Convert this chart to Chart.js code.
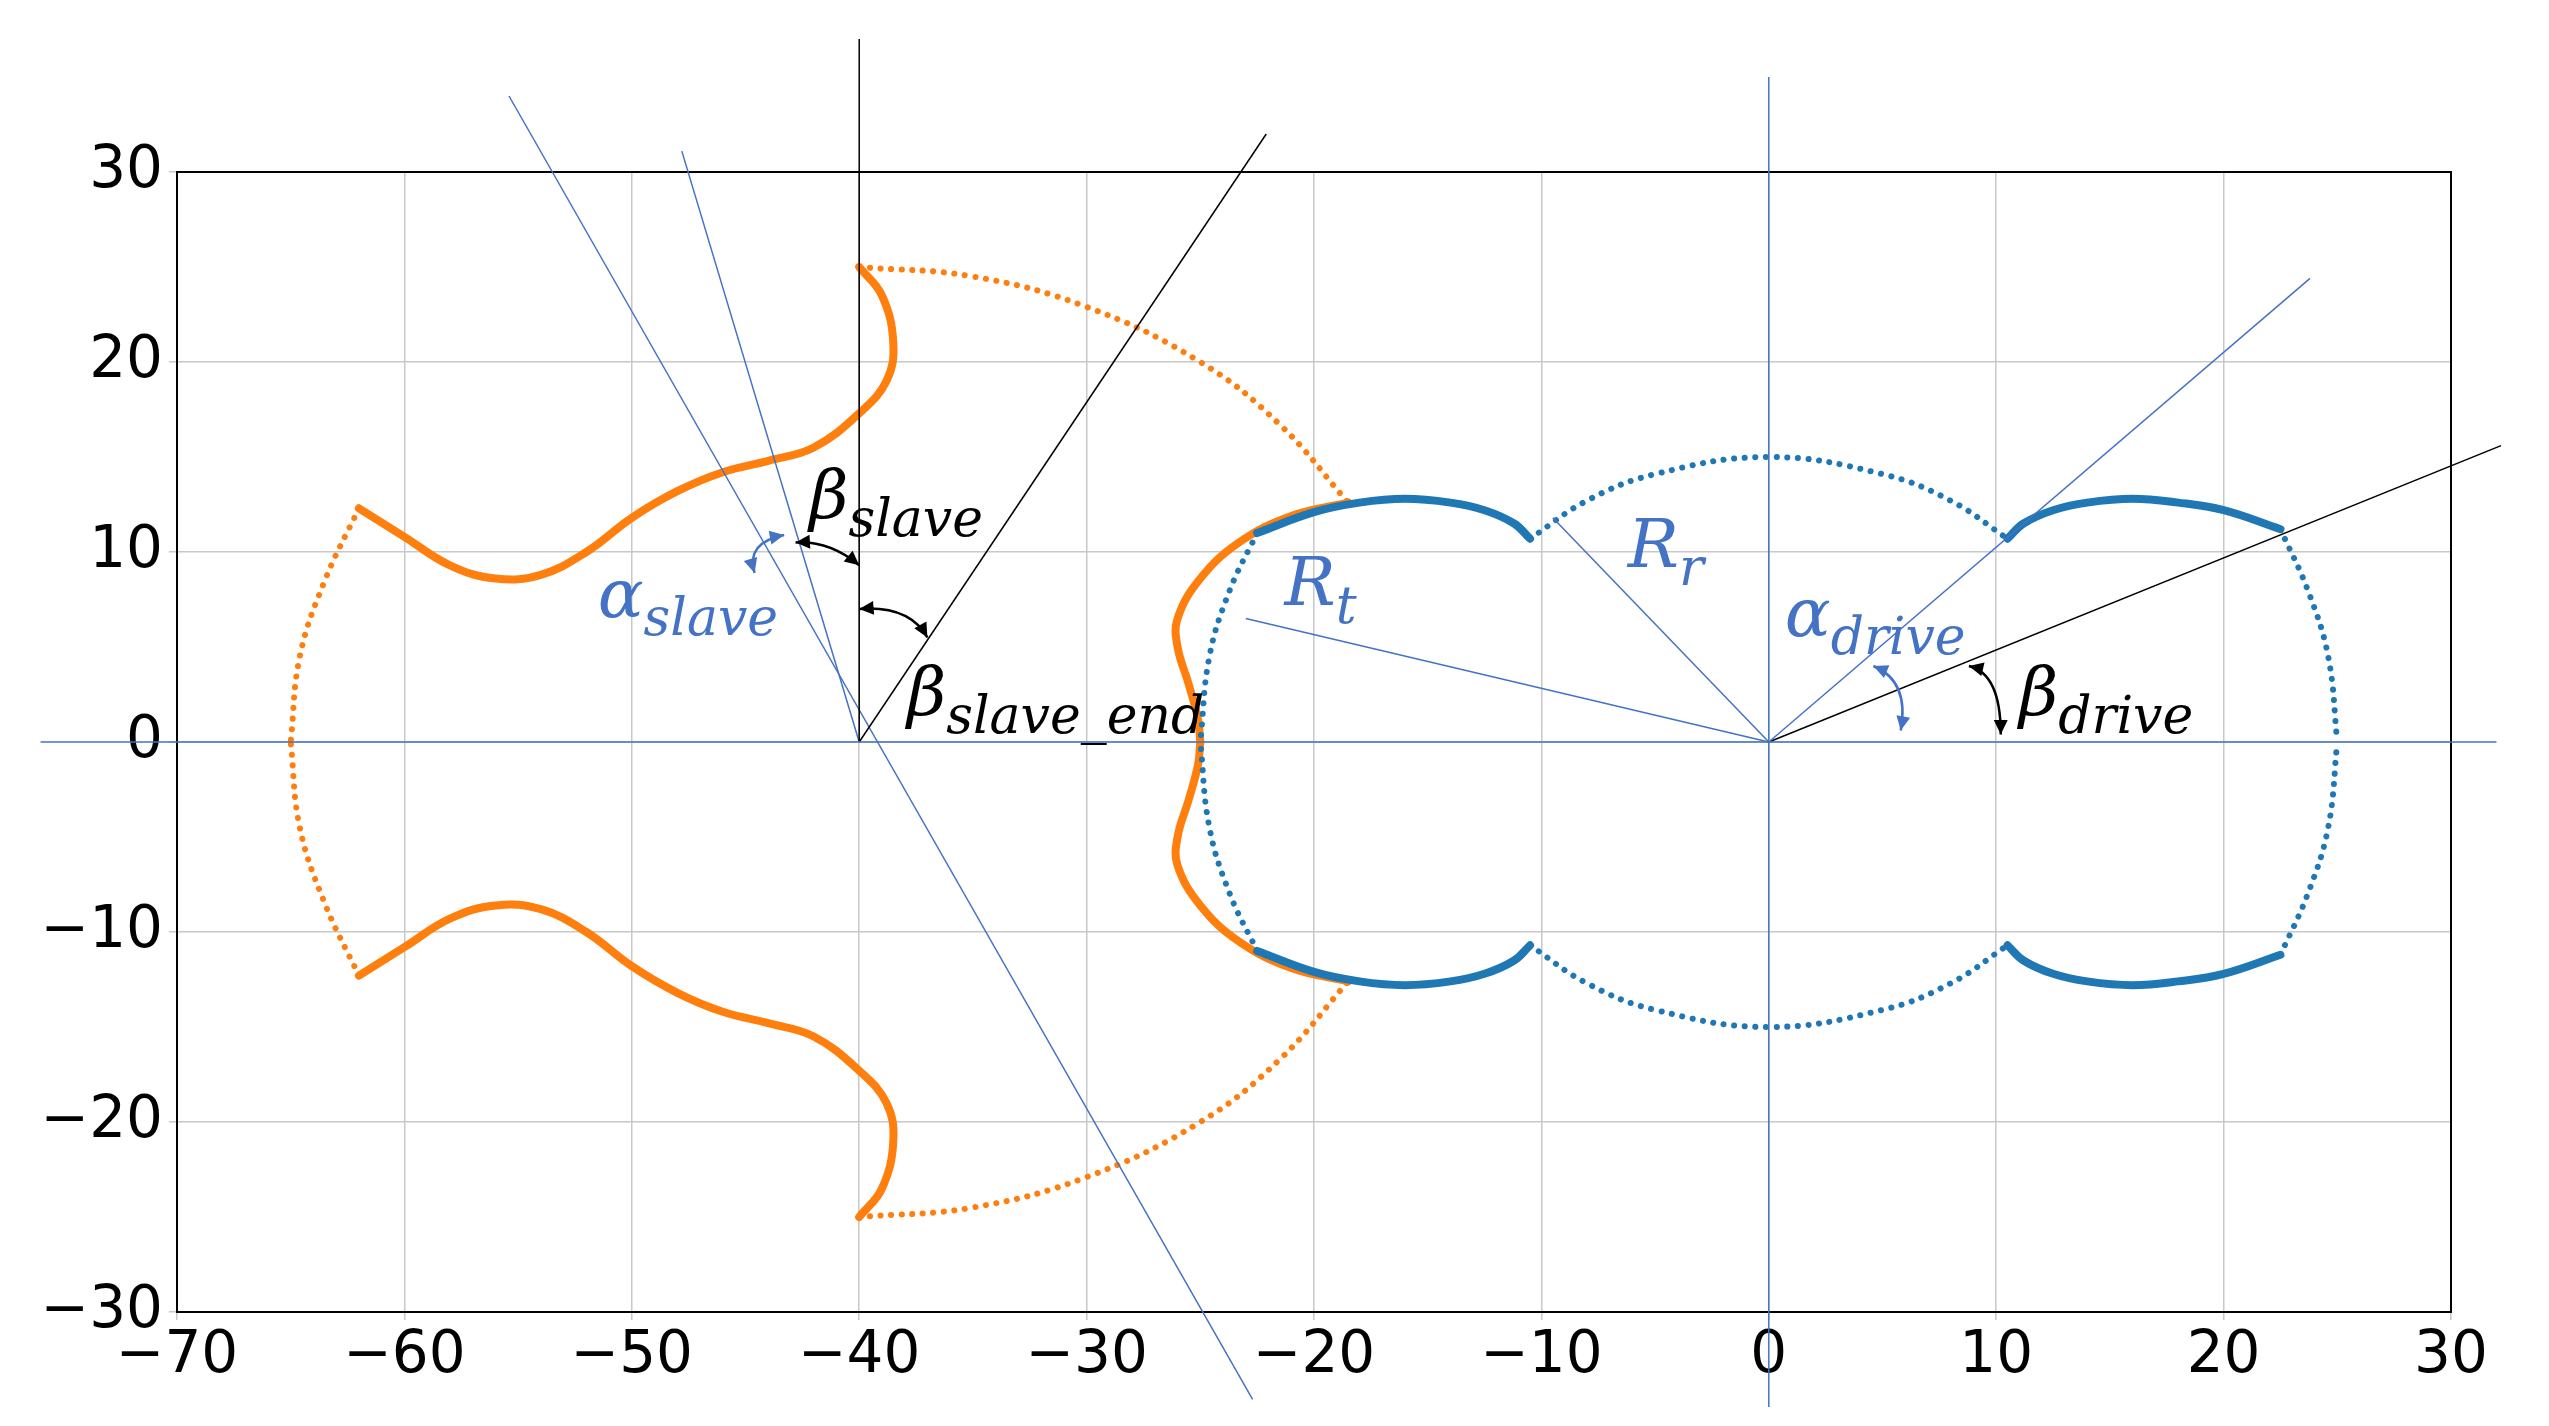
<!DOCTYPE html>
<html>
<head>
<meta charset="utf-8">
<script src="https://cdn.jsdelivr.net/npm/chart.js@4.4.1/dist/chart.umd.min.js"></script>
<style>
  body { margin: 0; background: #fff; }
  canvas { display: block; }
</style>
</head>
<body>
<canvas id="gearChart" width="2549" height="1426"></canvas>
<script>
// ---- data ----
const BLUE = '#1f77b4';
const ORANGE = '#ff7f0e';
const GUIDE = '#4472c4';

// drive (blue) profile, upper half; lower half mirrored
const driveTopLobe = [[-10.5,10.7],[-8,12.7],[-5,14.1],[0,15],[5,14.1],[8,12.7],[10.5,10.7]];
const driveRightBump = [[10.5,10.7],[11.2,11.5],[12.5,12.2],[14,12.6],[16,12.8],[18,12.6],[20,12.2],[22.5,11.2]];
const driveLeftBump = [[-10.5,10.7],[-11.2,11.5],[-12.5,12.2],[-14,12.6],[-16,12.8],[-18,12.6],[-20,12.1],[-22.5,11]];
const driveRightArc = [[22.5,11.2],[23.7,8],[24.6,4.5],[25,0]];
const driveLeftArc = [[-22.5,11],[-23.7,8],[-24.6,4.5],[-25,0]];

// slave (orange) profile, upper half
const slaveOuterArc = [[-40,25],[-35,24.5],[-30,22.9],[-25,20],[-21.5,16.7],[-18.5,12.6]];
const slaveToothFlank = [[-18.5,12.6],[-21,11.9],[-23.3,10.5],[-25,8.6],[-26,6.5],[-26,5],[-25.5,3],[-25.1,1.2],[-25,0]];
const slaveRoot = [[-40,25],[-39,23.5],[-38.5,21],[-38.8,19],[-40,17.3],[-42,15.5],[-44,14.8],[-46,14.2],[-48,13.2],[-50,11.8],[-52,10],[-54,8.8],[-56,8.6],[-58,9.3],[-60,10.8],[-62,12.3]];
const slaveLeftArc = [[-62,12.3],[-63.5,8.5],[-64.6,4.5],[-65,0]];

// construction lines
const guideLines = [
  { pts: [[-76,0],[32,0]], color: GUIDE },
  { pts: [[0,35],[0,-35]], color: GUIDE },
  { pts: [[-40,0],[-40,37]], color: '#000' },
  { pts: [[-40,0],[-22.1,32]], color: '#000' },
  { pts: [[-55.4,34],[-22.7,-34.6]], color: GUIDE },
  { pts: [[-40,0],[-47.8,31.1]], color: GUIDE },
  { pts: [[0,0],[23.8,24.4]], color: GUIDE },
  { pts: [[0,0],[32.2,15.6]], color: '#000' },
  { pts: [[0,0],[-23,6.5]], color: GUIDE },
  { pts: [[0,0],[-9.5,11.8]], color: GUIDE }
];

const labels = [
  { main: 'β', sub: 'slave', x: -42.2, y: 11.8, color: '#000' },
  { main: 'α', sub: 'slave', x: -51.5, y: 6.6, color: GUIDE },
  { main: 'β', sub: 'slave_end', x: -37.9, y: 1.4, color: '#000' },
  { main: 'R', sub: 't', x: -21.3, y: 7.2, color: GUIDE },
  { main: 'R', sub: 'r', x: -6.2, y: 9.2, color: GUIDE },
  { main: 'α', sub: 'drive', x: 0.7, y: 5.6, color: GUIDE },
  { main: 'β', sub: 'drive', x: 11, y: 1.4, color: '#000' }
];

// small curved angle arrows: from, control, to
const angleArrows = [
  { from: [-42.8,10.5], ctrl: [-41.3,10.6], to: [-40,9.3], color: '#000' },
  { from: [-43.3,10.9], ctrl: [-45,10.5], to: [-44.6,8.9], color: GUIDE },
  { from: [-40,7], ctrl: [-37.8,7.2], to: [-37,5.5], color: '#000' },
  { from: [4.6,4], ctrl: [6.2,3.2], to: [5.8,0.6], color: GUIDE },
  { from: [8.8,4], ctrl: [10.2,3.6], to: [10.2,0.4], color: '#000' }
];

const xTicks = [-70,-60,-50,-40,-30,-20,-10,0,10,20,30];
const yTicks = [-30,-20,-10,0,10,20,30];

// ---- build datasets ----
function mirror(pts) { return pts.map(p => [p[0], -p[1]]); }
function toXY(pts) { return pts.map(p => ({ x: p[0], y: p[1] })); }

const datasets = [];
guideLines.forEach(g => datasets.push({
  data: toXY(g.pts), borderColor: g.color, borderWidth: 1.5,
  pointRadius: 0, showLine: true, clip: false, tension: 0
}));

function addCurve(pts, color, thick) {
  [pts, mirror(pts)].forEach(p => datasets.push({
    data: toXY(p), borderColor: color, backgroundColor: color,
    borderWidth: thick ? 8 : 6, pointRadius: 0,
    borderDash: thick ? [] : [0.1, 10.5], borderCapStyle: 'round',
    showLine: true, tension: 0.4, clip: false
  }));
}
addCurve(driveTopLobe, BLUE, false);
addCurve(driveRightBump, BLUE, true);
addCurve(driveLeftBump, BLUE, true);
addCurve(driveRightArc, BLUE, false);
addCurve(driveLeftArc, BLUE, false);
addCurve(slaveOuterArc, ORANGE, false);
addCurve(slaveToothFlank, ORANGE, true);
addCurve(slaveRoot, ORANGE, true);
addCurve(slaveLeftArc, ORANGE, false);

function arrowHead(ctx, x, y, ang, size) {
  ctx.beginPath();
  ctx.moveTo(x, y);
  ctx.lineTo(x - size * Math.cos(ang - 0.45), y - size * Math.sin(ang - 0.45));
  ctx.lineTo(x - size * Math.cos(ang + 0.45), y - size * Math.sin(ang + 0.45));
  ctx.closePath();
  ctx.fill();
}

// text labels with subscripts, plus angle arrows
const labelPlugin = {
  id: 'labels',
  afterDatasetsDraw(chart) {
    const ctx = chart.ctx, xs = chart.scales.x, ys = chart.scales.y;
    const P = p => [xs.getPixelForValue(p[0]), ys.getPixelForValue(p[1])];
    ctx.save();
    angleArrows.forEach(a => {
      const f = P(a.from), c = P(a.ctrl), t = P(a.to);
      ctx.strokeStyle = a.color; ctx.fillStyle = a.color; ctx.lineWidth = 2.5;
      ctx.beginPath(); ctx.moveTo(f[0], f[1]); ctx.quadraticCurveTo(c[0], c[1], t[0], t[1]); ctx.stroke();
      arrowHead(ctx, t[0], t[1], Math.atan2(t[1] - c[1], t[0] - c[0]), 16);
      arrowHead(ctx, f[0], f[1], Math.atan2(f[1] - c[1], f[0] - c[0]), 16);
    });
    ctx.textBaseline = 'alphabetic';
    labels.forEach(l => {
      const [px, py] = P([l.x, l.y]);
      ctx.fillStyle = l.color;
      ctx.font = 'italic 68px "DejaVu Serif"';
      ctx.fillText(l.main, px, py);
      const w = ctx.measureText(l.main).width;
      ctx.font = 'italic 52px "DejaVu Serif"';
      ctx.fillText(l.sub, px + w, py + 18);
    });
    ctx.restore();
  }
};

Chart.defaults.font.family = '"DejaVu Sans"';
new Chart(document.getElementById('gearChart'), {
  type: 'scatter',
  data: { datasets: datasets },
  plugins: [labelPlugin],
  options: {
    responsive: false,
    devicePixelRatio: 1,
    animation: false,
    layout: { padding: { top: 172, right: 98, left: 0, bottom: 0 } },
    plugins: { legend: { display: false }, tooltip: { enabled: false } },
    scales: {
      x: {
        type: 'linear', min: -70, max: 30,
        afterFit: s => { s.height = 114; },
        afterBuildTicks: s => { s.ticks = xTicks.map(v => ({ value: v })); },
        grid: { color: '#c8c8c8', lineWidth: 1.5, tickLength: 8 },
        border: { color: '#000', width: 2 },
        ticks: { color: '#000', font: { size: 58 }, padding: 2,
          callback: v => v < 0 ? '\u2212' + (-v) : String(v) }
      },
      y: {
        type: 'linear', min: -30, max: 30,
        afterFit: s => { s.width = 177; },
        afterBuildTicks: s => { s.ticks = yTicks.map(v => ({ value: v })); },
        grid: { color: '#c8c8c8', lineWidth: 1.5, tickLength: 8 },
        border: { color: '#000', width: 2 },
        ticks: { color: '#000', font: { size: 58 }, padding: 6,
          callback: v => v < 0 ? '\u2212' + (-v) : String(v) }
      },
      x2: { type: 'linear', position: 'top', min: -70, max: 30, display: true,
        grid: { display: false }, ticks: { display: false }, border: { color: '#000', width: 2 },
        afterFit: s => { s.height = 0; } },
      y2: { type: 'linear', position: 'right', min: -30, max: 30, display: true,
        grid: { display: false }, ticks: { display: false }, border: { color: '#000', width: 2 },
        afterFit: s => { s.width = 0; } }
    }
  }
});
</script>
</body>
</html>
